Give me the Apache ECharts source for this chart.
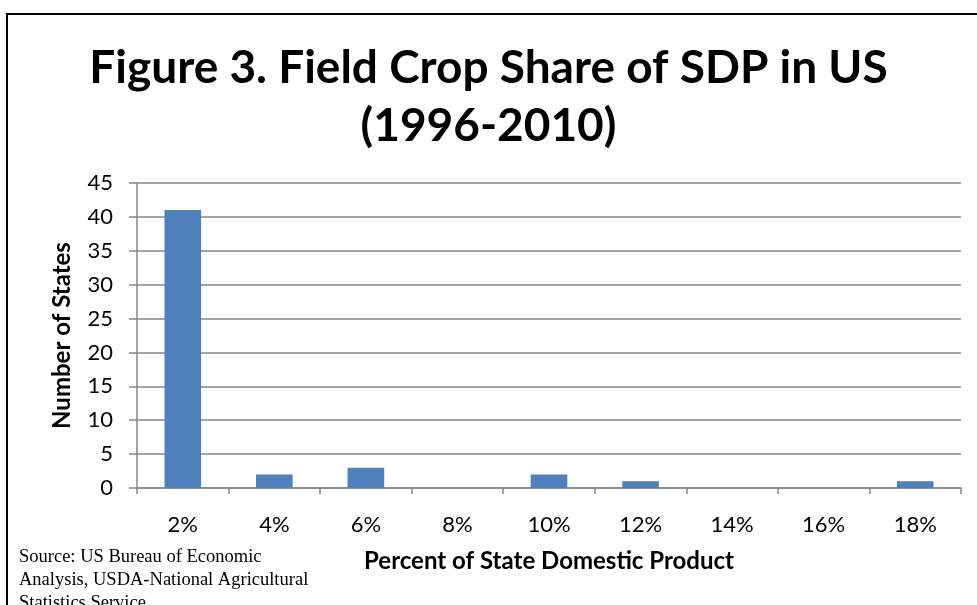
<!DOCTYPE html>
<html>
<head>
<meta charset="utf-8">
<script src="https://cdn.jsdelivr.net/npm/echarts@6/dist/echarts.min.js"></script>
<style>
  html, body { margin: 0; padding: 0; background: #fff; }
  #chart { width: 977px; height: 605px; }
</style>
</head>
<body>
<div id="chart"></div>
<script>
var categories = ["2%", "4%", "6%", "8%", "10%", "12%", "14%", "16%", "18%"];
var stateCounts = [41, 2, 3, 0, 2, 1, 0, 0, 1];
var sourceLines = [
  "Source: US Bureau of Economic",
  "Analysis, USDA-National Agricultural",
  "Statistics Service"
];

var font = "Lato, 'Open Sans', sans-serif";
var myChart = echarts.init(document.getElementById("chart"));

myChart.setOption({
  animation: false,
  backgroundColor: "#fff",
  title: {
    text: "Figure 3. Field Crop Share of SDP in US\n(1996-2010)",
    left: "center",
    top: 34,
    textStyle: {
      fontFamily: font,
      fontWeight: "bold",
      fontSize: 46,
      lineHeight: 58,
      color: "#000"
    }
  },
  grid: {
    left: 137,
    right: 16,
    top: 183,
    bottom: 117
  },
  xAxis: {
    type: "category",
    data: categories,
    name: "Percent of State Domestic Product",
    nameLocation: "middle",
    nameGap: 61,
    nameTextStyle: {
      fontFamily: font,
      fontWeight: "bold",
      fontSize: 24,
      color: "#000"
    },
    axisLine: { lineStyle: { color: "#868686", width: 1.5 } },
    axisTick: { show: true, length: 6, lineStyle: { color: "#868686", width: 1.5 } },
    axisLabel: {
      margin: 26,
      fontFamily: font,
      fontSize: 22,
      color: "#000"
    }
  },
  yAxis: {
    type: "value",
    min: 0,
    max: 45,
    interval: 5,
    name: "Number of States",
    nameLocation: "middle",
    nameRotate: 90,
    nameGap: 63,
    nameTextStyle: {
      fontFamily: font,
      fontWeight: "bold",
      fontSize: 24,
      color: "#000"
    },
    axisLine: { show: true, lineStyle: { color: "#868686", width: 1.5 } },
    axisTick: { show: true, length: 8, lineStyle: { color: "#868686", width: 1.5 } },
    axisLabel: {
      margin: 24,
      fontFamily: font,
      fontSize: 22,
      color: "#000"
    },
    splitLine: { lineStyle: { color: "#868686", width: 1.5 } }
  },
  series: [
    {
      type: "bar",
      data: stateCounts,
      barCategoryGap: "60%",
      itemStyle: { color: "#4f81bd" }
    }
  ],
  graphic: [
    {
      type: "rect",
      shape: { x: 7, y: 14, width: 1000, height: 700 },
      style: { fill: "none", stroke: "#000", lineWidth: 2 },
      silent: true
    },
    {
      type: "text",
      left: 19,
      top: 546,
      style: {
        text: sourceLines.join("\n"),
        fontFamily: "'Liberation Serif', serif",
        fontSize: 18.5,
        lineHeight: 23,
        fill: "#000"
      }
    }
  ]
});
</script>
</body>
</html>
